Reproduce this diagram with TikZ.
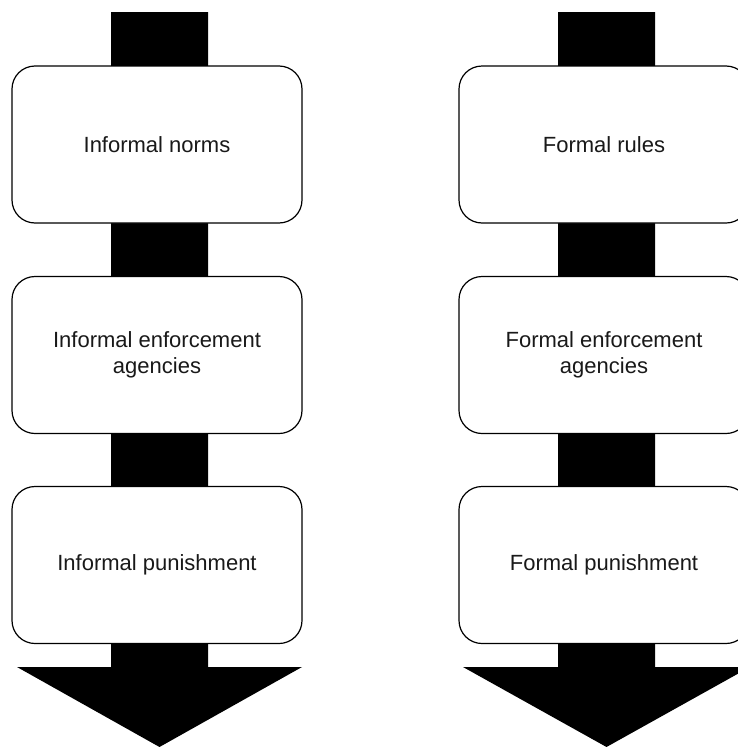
\documentclass[tikz,border=0pt]{standalone}
\usepackage{fontspec}
\setmainfont{Liberation Sans}
\begin{document}
\begin{tikzpicture}[x=1pt,y=-1pt,
  box/.style={draw=black, line width=1.2pt, fill=white, rounded corners=23pt,
    minimum width=290pt, minimum height=157pt, align=center, inner sep=0pt,
    text=black!90, font=\fontsize{22}{26.5}\selectfont},
  flow/.style={fill=black}]
\useasboundingbox (0,0) rectangle (738,747);
\clip (0,0) rectangle (738,747);
% left arrow
\coordinate (lt) at (159.5,747);
\fill[flow] (111,12) -- (208,12) -- (208,667) -- (302,667) -- (lt) -- (17,667) -- (111,667) -- cycle;
% right arrow
\coordinate (rt) at (606.5,747);
\fill[flow] (558,12) -- (655,12) -- (655,667) -- (750,667) -- (rt) -- (463,667) -- (558,667) -- cycle;
% left boxes
\node[box] (l1) at (157,144.5) {Informal norms};
\node[box] (l2) at (157,355) {Informal enforcement\\agencies};
\node[box] (l3) at (157,565) {Informal punishment};
% right boxes
\node[box] (r1) at (604,144.5) {Formal rules};
\node[box] (r2) at (604,355) {Formal enforcement\\agencies};
\node[box] (r3) at (604,565) {Formal punishment};
\end{tikzpicture}
\end{document}
